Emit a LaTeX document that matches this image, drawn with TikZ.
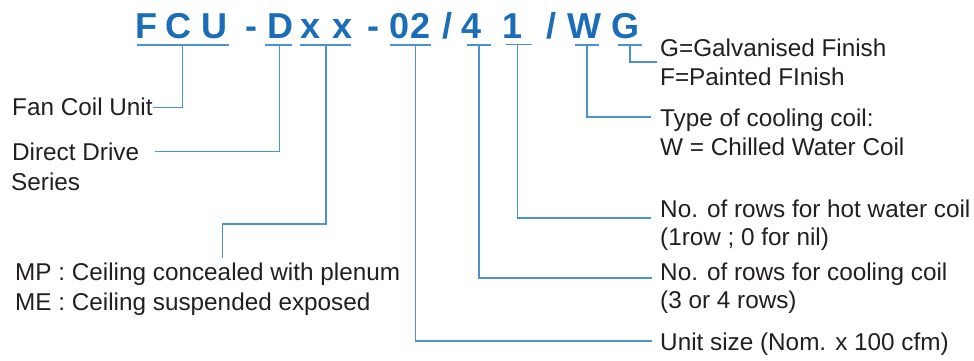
\documentclass[tikz,border=0pt]{standalone}
\usepackage{fontspec}
\setmainfont{Liberation Sans}
\definecolor{codeblue}{HTML}{1A6DB6}
\definecolor{lineblue}{HTML}{4C92D2}
\definecolor{txtgray}{HTML}{231F20}
\begin{document}
\begin{tikzpicture}[x=1pt,y=-1pt,
  code/.style={text=codeblue, font=\fontsize{36}{36}\selectfont\bfseries, anchor=base, inner sep=0pt},
  lbl/.style={text=txtgray, font=\fontsize{24.3}{29}\selectfont, anchor=base west, inner sep=0pt},
  lk/.style={draw=lineblue, line width=1.2pt}]
\useasboundingbox (0,0) rectangle (974,360);
% code characters
\node[code] (cF)  at (146.5,38) {F};
\node[code] (cC)  at (178.5,38) {C};
\node[code] (cU)  at (214.5,38) {U};
\node[code] (cd1) at (251,38) {-};
\node[code] (cD)  at (280,38) {D};
\node[code] (cx1) at (310.6,38) {x};
\node[code] (cx2) at (343,38) {x};
\node[code] (cd2) at (373,38) {-};
\node[code] (c02) at (410,38) {02};
\node[code] (cs1) at (447,38) {/};
\node[code] (c4)  at (472,38) {4};
\node[code] (c1)  at (513,38) {1};
\node[code] (cs2) at (551,38) {/};
\node[code] (cW)  at (584,38) {W};
\node[code] (cG)  at (625.5,38) {G};
% labels
\node[lbl] (tFCU) at (12,115) {Fan Coil Unit};
\node[lbl] (tD1) at (12,160.7) {Direct Drive};
\node[lbl] (tD2) at (11,190.7) {Series};
\node[lbl] (tM1) at (15,280) {MP : Ceiling concealed with plenum};
\node[lbl] (tM2) at (15,310) {ME : Ceiling suspended exposed};
\node[lbl] (tG1) at (660,56.7) {G=Galvanised Finish};
\node[lbl] (tG2) at (660,85) {F=Painted FInish};
\node[lbl] (tW1) at (660,126.7) {Type of cooling coil:};
\node[lbl] (tW2) at (660,155) {W = Chilled Water Coil};
\node[lbl] (tH1) at (660,217.5) {No. of rows for hot water coil};
\node[lbl] (tH2) at (660,245) {(1row ; 0 for nil)};
\node[lbl] (tC1) at (660,280) {No. of rows for cooling coil};
\node[lbl] (tC2) at (660,308) {(3 or 4 rows)};
\node[lbl] (tU) at (660,350) {Unit size (Nom. x 100 cfm)};
% underline ends and connector points
\coordinate (aFCU) at (136.5,45); \coordinate (bFCU) at (228.5,45); \coordinate (uFCU) at (182.7,45);
\coordinate (aD) at (265,45);   \coordinate (bD) at (292,45);   \coordinate (uD) at (279.5,45);
\coordinate (aX) at (299.8,45); \coordinate (bX) at (351.4,45); \coordinate (uX) at (326,45);
\coordinate (a02) at (390,45);  \coordinate (b02) at (430.7,45); \coordinate (u02) at (415.5,45);
\coordinate (a4) at (466.7,45); \coordinate (b4) at (490.7,45); \coordinate (u4) at (479,45);
\coordinate (a1) at (506,44.5); \coordinate (b1) at (531.7,44.5); \coordinate (u1) at (517.5,44.5);
\coordinate (aW) at (575,45);   \coordinate (bW) at (598.6,45); \coordinate (uW) at (587,45);
\coordinate (aG) at (617.6,45); \coordinate (bG) at (641.7,45); \coordinate (uG) at (630,45);
\coordinate (eFCU) at (153,107.7);
\coordinate (eD) at (155,151.7);
\coordinate (kX) at (222.3,224); \coordinate (eX) at (222.3,258.3);
\coordinate (e02) at (652,341);
\coordinate (e4) at (652,278);
\coordinate (e1) at (651,218);
\coordinate (eW) at (651,117);
\coordinate (eG) at (657,62);
% underlines
\foreach \n in {FCU,D,X,02,4,1,W,G}{\draw[lk] (a\n) -- (b\n);}
% connectors
\draw[lk] (uFCU) |- (eFCU);
\draw[lk] (uD) |- (eD);
\draw[lk] (uX) |- (kX) -- (eX);
\draw[lk] (u02) |- (e02);
\draw[lk] (u4) |- (e4);
\draw[lk] (u1) |- (e1);
\draw[lk] (uW) |- (eW);
\draw[lk] (uG) |- (eG);
\end{tikzpicture}
\end{document}
